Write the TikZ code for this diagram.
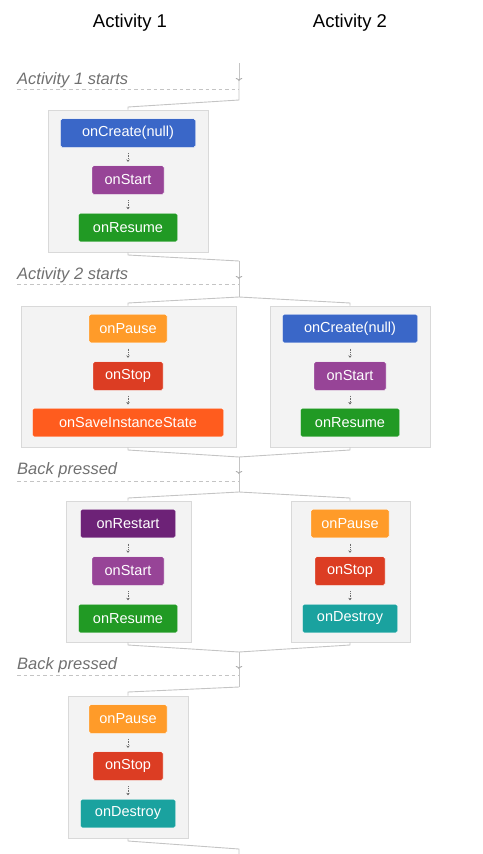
\documentclass[tikz,border=0pt]{standalone}
\usepackage{fontspec}
\setmainfont{Liberation Sans}
\usetikzlibrary{arrows.meta,calc}
\definecolor{cBlue}{HTML}{3A67C8}
\definecolor{cPurple}{HTML}{974497}
\definecolor{cDarkPurple}{HTML}{6D2277}
\definecolor{cGreen}{HTML}{219A24}
\definecolor{cOrange}{HTML}{FF9B29}
\definecolor{cRed}{HTML}{DC3D23}
\definecolor{cSave}{HTML}{FF5C1E}
\definecolor{cTeal}{HTML}{1AA29F}
\definecolor{cBoxFill}{HTML}{F3F3F3}
\definecolor{cBoxLine}{HTML}{D9D9D9}
\definecolor{cLine}{HTML}{C4C4C4}
\definecolor{cArrow}{HTML}{ABABAB}
\definecolor{cLabel}{HTML}{707070}
\tikzset{
  head/.style={font=\fontsize{18.5}{20}\selectfont, text=black, inner sep=0pt},
  evlabel/.style={font=\fontsize{16.5}{18}\selectfont\itshape, text=cLabel, inner sep=0pt, anchor=base west},
  cont/.style={draw=cBoxLine, fill=cBoxFill, line width=0.8pt, inner sep=0pt},
  item/.style={rounded corners=1.5pt, inner sep=0pt, minimum height=28.5pt, text=white,
    font=\fontsize{14.5}{16}\selectfont, draw=white, line width=0.4pt},
  conn/.style={draw=cLine, line width=0.9pt},
  evarrow/.style={draw=cLine, line width=0.9pt, -{To[length=3pt,width=6.5pt,color=cArrow]}},
  dashline/.style={draw=cLine, line width=0.9pt, dash pattern=on 3.5pt off 3pt},
  small/.style={draw=gray!85!black, line width=0.6pt, dash pattern=on 1pt off 0.8pt, -{Stealth[length=2.5pt,width=3.5pt]}},
}
\newcommand{\smallarrow}[2]{\draw[small] ($(#1.south)!0.3!(#2.north)$) -- ($(#1.south)!0.8!(#2.north)$);}
\begin{document}
\begin{tikzpicture}[x=1pt,y=-1pt]
\useasboundingbox (0,0) rectangle (482,854);
% headers
\node[head] (h1) at (130,23) {Activity 1};
\node[head] (h2) at (350,23) {Activity 2};

% ---------- Event 1
\node[evlabel] (ev1) at (17,84) {Activity 1 starts};
\coordinate (t1) at (239,63);
\coordinate (a1) at (239,81);
\coordinate (d1a) at (17,89);
\coordinate (d1b) at (239,89);
\coordinate (s1) at (239,100);
\coordinate (s1l) at (128,107);
\draw[dashline] (d1a) -- (d1b);

% box 1
\node[cont, minimum width=160pt, minimum height=142pt] (c1) at (128,181) {};
\node[item, fill=cBlue, minimum width=135pt] (c1a) at (128,133) {onCreate(null)};
\node[item, fill=cPurple, minimum width=72pt] (c1b) at (128,180) {onStart};
\node[item, fill=cGreen, minimum width=99pt] (c1c) at (128,227.5) {onResume};
\smallarrow{c1a}{c1b}
\smallarrow{c1b}{c1c}

\draw[evarrow] (t1) -- (a1);
\draw[conn] (a1) -- (s1) -- (s1l) -- (c1.north);

% ---------- Event 2
\node[evlabel] (ev2) at (17,279) {Activity 2 starts};
\coordinate (m1l) at (128,255);
\coordinate (m1) at (239,261);
\coordinate (a2) at (239,279);
\coordinate (d2a) at (17,284);
\coordinate (d2b) at (239,284);
\coordinate (s2) at (239,297);
\coordinate (s2l) at (128,303);
\coordinate (s2r) at (350,303);
\draw[dashline] (d2a) -- (d2b);

\node[cont, minimum width=215pt, minimum height=141pt] (c2l) at (128.5,376.5) {};
\node[cont, minimum width=160pt, minimum height=141pt] (c2r) at (350,376.5) {};
\node[item, fill=cOrange, minimum width=78pt] (c2la) at (128,328.5) {onPause};
\node[item, fill=cRed, minimum width=70pt] (c2lb) at (128,376) {onStop};
\node[item, fill=cSave, minimum width=191pt] (c2lc) at (128,422.5) {onSaveInstanceState};
\node[item, fill=cBlue, minimum width=135pt] (c2ra) at (350,328.5) {onCreate(null)};
\node[item, fill=cPurple, minimum width=72pt] (c2rb) at (350,376) {onStart};
\node[item, fill=cGreen, minimum width=99pt] (c2rc) at (350,422.5) {onResume};
\smallarrow{c2la}{c2lb}
\smallarrow{c2lb}{c2lc}
\smallarrow{c2ra}{c2rb}
\smallarrow{c2rb}{c2rc}

\draw[conn] (c1.south) -- (m1l) -- (m1);
\draw[evarrow] (m1) -- (a2);
\draw[conn] (a2) -- (s2);
\draw[conn] (s2) -- (s2l) -- (c2l.north -| s2l);
\draw[conn] (s2) -- (s2r) -- (c2r.north);

% ---------- Event 3
\node[evlabel] (ev3) at (17,474) {Back pressed};
\coordinate (m2l) at (128,450);
\coordinate (m2r) at (350,450);
\coordinate (m2) at (239,457);
\coordinate (a3) at (239,474);
\coordinate (d3a) at (17,481);
\coordinate (d3b) at (239,481);
\coordinate (s3) at (239,492);
\coordinate (s3l) at (128,498);
\coordinate (s3r) at (350,498);
\draw[dashline] (d3a) -- (d3b);

\draw[conn] (c2l.south -| m2l) -- (m2l) -- (m2);
\draw[conn] (c2r.south) -- (m2r) -- (m2);
\draw[evarrow] (m2) -- (a3);
\draw[conn] (a3) -- (s3);

\node[cont, minimum width=125pt, minimum height=141pt] (c3l) at (128.5,571.5) {};
\node[cont, minimum width=119pt, minimum height=141pt] (c3r) at (350.5,571.5) {};
\node[item, fill=cDarkPurple, minimum width=95pt] (c3la) at (128,523.5) {onRestart};
\node[item, fill=cPurple, minimum width=72pt] (c3lb) at (128,571) {onStart};
\node[item, fill=cGreen, minimum width=99pt] (c3lc) at (128,618.5) {onResume};
\node[item, fill=cOrange, minimum width=78pt] (c3ra) at (350,523.5) {onPause};
\node[item, fill=cRed, minimum width=70pt] (c3rb) at (350,571) {onStop};
\node[item, fill=cTeal, minimum width=95pt] (c3rc) at (350,618.5) {onDestroy};
\smallarrow{c3la}{c3lb}
\smallarrow{c3lb}{c3lc}
\smallarrow{c3ra}{c3rb}
\smallarrow{c3rb}{c3rc}

\draw[conn] (s3) -- (s3l) -- (c3l.north -| s3l);
\draw[conn] (s3) -- (s3r) -- (c3r.north -| s3r);

% ---------- Event 4
\node[evlabel] (ev4) at (17,669) {Back pressed};
\coordinate (m3l) at (128,645);
\coordinate (m3r) at (350,645);
\coordinate (m3) at (239,652);
\coordinate (a4) at (239,669);
\coordinate (d4a) at (17,675);
\coordinate (d4b) at (239,675);
\coordinate (s4) at (239,687);
\coordinate (s4l) at (128,692);
\draw[dashline] (d4a) -- (d4b);

\draw[conn] (c3l.south -| m3l) -- (m3l) -- (m3);
\draw[conn] (c3r.south -| m3r) -- (m3r) -- (m3);
\draw[evarrow] (m3) -- (a4);
\draw[conn] (a4) -- (s4);

\node[cont, minimum width=120pt, minimum height=142pt] (c4) at (128,767) {};
\node[item, fill=cOrange, minimum width=78pt] (c4a) at (128,719) {onPause};
\node[item, fill=cRed, minimum width=70pt] (c4b) at (128,766) {onStop};
\node[item, fill=cTeal, minimum width=95pt] (c4c) at (128,813.5) {onDestroy};
\smallarrow{c4a}{c4b}
\smallarrow{c4b}{c4c}

\draw[conn] (s4) -- (s4l) -- (c4.north);

% ---------- end
\coordinate (m4l) at (128,841);
\coordinate (m4) at (239,849);
\coordinate (endp) at (239,856);
\draw[conn] (c4.south) -- (m4l) -- (m4) -- (endp);
\end{tikzpicture}
\end{document}
